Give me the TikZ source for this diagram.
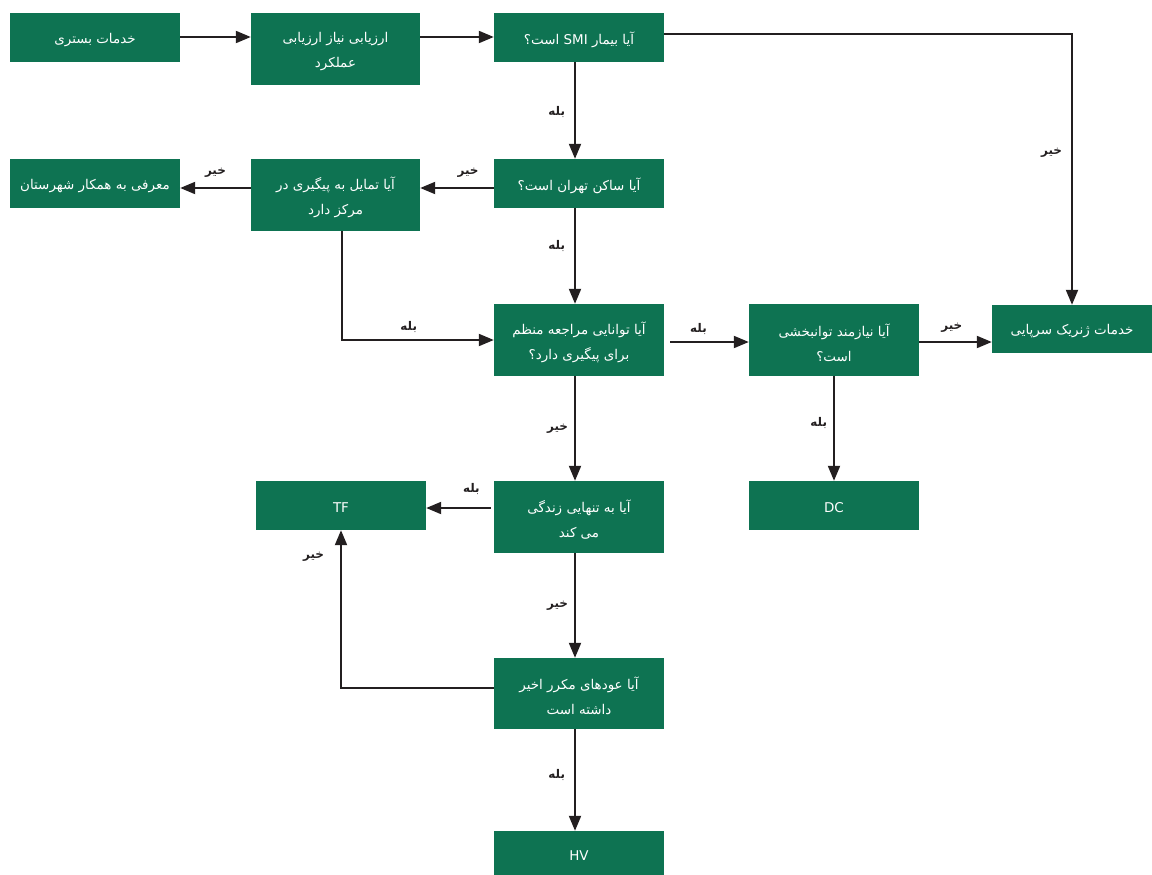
\documentclass[tikz,border=0pt]{standalone}
\usepackage{fontspec}
\newfontfamily\arabicfont[Script=Arabic]{DejaVu Sans}
\TeXXeTstate=1
\usetikzlibrary{arrows.meta}
\definecolor{boxgreen}{RGB}{14,115,82}
\definecolor{linecol}{RGB}{35,31,32}
\newcommand{\rl}[1]{\raisebox{-2.5pt}[\height][\depth]{\beginR #1\endR}}
\newcommand{\lt}[1]{\raisebox{-2.5pt}[\height][\depth]{#1}}
\newcommand{\lb}[1]{\beginR #1\endR}
\begin{document}
\begin{tikzpicture}[x=1bp,y=-1bp,
  box/.style={rectangle, fill=boxgreen, text=white, inner sep=0pt, align=center,
    font=\arabicfont\fontsize{13.5}{25}\selectfont, minimum width=170bp},
  sbox/.style={box, minimum height=49bp},
  tbox/.style={box, minimum height=72bp},
  arr/.style={draw=linecol, line width=2bp, -{Triangle[length=15bp,width=12bp]}},
  lbl/.style={font=\arabicfont\bfseries\fontsize{12}{14}\selectfont, text=linecol, inner sep=0pt}
]
\useasboundingbox (0,0) rectangle (1152,875);

\node[sbox] (A) at (95,37.5) {\rl{خدمات بستری}};
\node[tbox, minimum width=169bp] (B) at (335.5,49) {\rl{ارزیابی نیاز ارزیابی}\\\rl{عملکرد}};
\node[sbox] (C) at (579,37.5) {\rl{آیا بیمار \beginL SMI\endL{} است؟}};
\node[sbox] (D) at (579,183.5) {\rl{آیا ساکن تهران است؟}};
\node[tbox, minimum width=169bp] (E) at (335.5,195) {\rl{آیا تمایل به پیگیری در}\\\rl{مرکز دارد}};
\node[sbox] (F) at (95,183.5) {\rl{معرفی به همکار شهرستان}};
\node[tbox] (G) at (579,340) {\rl{آیا توانایی مراجعه منظم}\\\rl{برای پیگیری دارد؟}};
\node[tbox] (H) at (834,340) {\rl{آیا نیازمند توانبخشی}\\\rl{است؟}};
\node[box, minimum width=160bp, minimum height=48bp] (I) at (1072,329) {\rl{خدمات ژنریک سرپایی}};
\node[sbox] (J) at (834,505.5) {\lt{DC}};
\node[sbox] (K) at (341,505.5) {\lt{TF}};
\node[tbox] (L) at (579,517) {\rl{آیا به تنهایی زندگی}\\\rl{می کند}};
\node[box, minimum height=71bp] (M) at (579,693.5) {\rl{آیا عودهای مکرر اخیر}\\\rl{داشته است}};
\node[box, minimum height=44bp] (N) at (579,853) {\lt{HV}};

\draw[arr] ([yshift=0.5bp]A.east) -- ([yshift=0.5bp]A.east -| B.west);
\draw[arr] ([yshift=0.5bp]C.west -| B.east) -- ([yshift=0.5bp]C.west);
\draw[arr] ([yshift=3.5bp]C.east) -| node[lbl, pos=0.72, left=9bp] {\lb{خیر}} (I.north);
\draw[arr] ([xshift=-4bp]C.south) -- node[lbl, left=9bp, pos=0.52] {\lb{بله}} ([xshift=-4bp]D.north);
\draw[arr] ([yshift=-4.5bp]D.west) -- node[lbl, pos=0.35, above=10bp] {\lb{خیر}} ([yshift=-4.5bp]D.west -| E.east);
\draw[arr] ([yshift=-4.5bp]D.west -| E.west) -- node[lbl, pos=0.5, above=10bp] {\lb{خیر}} ([yshift=-4.5bp]D.west -| F.east);
\draw[arr] ([xshift=-4bp]D.south) -- node[lbl, left=9bp, pos=0.4] {\lb{بله}} ([xshift=-4bp]G.north);
\draw[arr] ([xshift=6.5bp]E.south) |- node[lbl, pos=0.72, above=6bp] {\lb{بله}} (G.west);
\draw[arr] ([xshift=6bp,yshift=-2bp]G.east) -- node[lbl, pos=0.36, above=6bp] {\lb{بله}} ([yshift=-2bp]H.west);
\draw[arr] ([yshift=-2bp]H.east) -- node[lbl, pos=0.45, above=9bp] {\lb{خیر}} ([yshift=-2bp]H.east -| I.west);
\draw[arr] (H.south) -- node[lbl, left=6bp, pos=0.45] {\lb{بله}} (J.north);
\draw[arr] ([xshift=-4bp]G.south) -- node[lbl, left=6bp, pos=0.5] {\lb{خیر}} ([xshift=-4bp]L.north);
\draw[arr] ([xshift=-3bp,yshift=9bp]L.west) -- node[lbl, pos=0.3, above=12bp] {\lb{بله}} ([yshift=9bp]L.west -| K.east);
\draw[arr] ([xshift=-4bp]L.south) -- node[lbl, left=6bp, pos=0.5] {\lb{خیر}} ([xshift=-4bp]M.north);
\draw[arr] ([yshift=5.5bp]M.west) -| node[lbl, pos=0.915, left=16bp] {\lb{خیر}} (K.south);
\draw[arr] ([xshift=-4bp]M.south) -- node[lbl, left=9bp, pos=0.45] {\lb{بله}} ([xshift=-4bp]N.north);
\end{tikzpicture}
\end{document}
